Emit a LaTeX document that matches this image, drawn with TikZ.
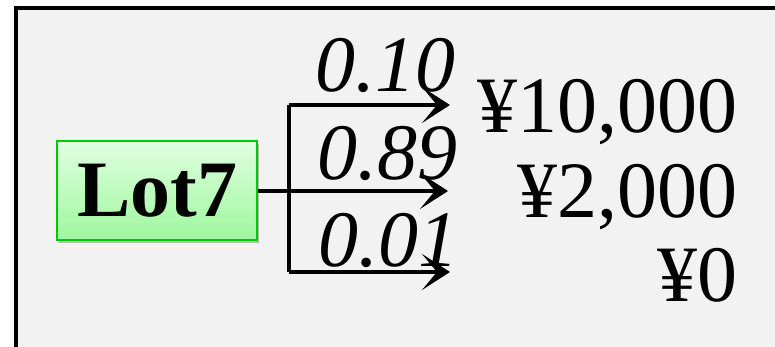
\documentclass[tikz,border=0pt]{standalone}
\usepackage{fontspec}
\setmainfont{Liberation Serif}
\usetikzlibrary{arrows.meta, shadows}
\definecolor{panelgray}{HTML}{F2F2F2}
\definecolor{lotgreen}{HTML}{00C800}
\definecolor{lottop}{HTML}{E0FFE0}
\definecolor{lotbottom}{HTML}{9EF79E}
\tikzset{lotbox/.style = {draw = lotgreen, line width = 2.5pt, top color = lottop, bottom color = lotbottom,
    minimum width = 200pt, minimum height = 99pt, inner sep = 0pt,
    drop shadow = {shadow xshift = 2pt, shadow yshift = -3pt, opacity = 0.5},
    font = \fontsize{80}{80}\selectfont\bfseries}}
\tikzset{prob/.style = {anchor = base west, inner sep = 0pt, font = \fontsize{80}{80}\selectfont\itshape}}
\tikzset{prize/.style = {anchor = base east, inner sep = 0pt, font = \fontsize{80}{80}\selectfont}}
\tikzset{edge/.style = {line width = 3.2pt, -{Stealth[length = 28pt, width = 36pt, inset = 15pt]}}}
\tikzset{fork/.style = {line width = 3.2pt}}

\begin{document}
\begin{tikzpicture}[x = 1pt, y = 1pt]
			\useasboundingbox (0, 0) rectangle (775, 347);
			\fill[panelgray] (16, 0) rectangle (790, 339);
			\draw[line width = 3.5pt] (16, -5) -- (16, 339) -- (790, 339);

			\node[lotbox] (lot) at (157, 156.5) {Lot7};

			\coordinate (ftop) at (289, 242);
			\coordinate (fbot) at (289, 75);
			\coordinate (e1) at (450, 242);
			\coordinate (e2) at (448, 156);
			\coordinate (e3) at (450, 75);

			\draw[fork] (ftop) -- (fbot);
			\draw[edge] (lot.east |- e2) -- (e2);
			\draw[edge] (ftop) -- (e1);
			\draw[edge] (fbot) -- (e3);

			\node[prob] (p1) at (315, 255) {0.10};
			\node[prob] (p2) at (317, 167) {0.89};
			\node[prob] (p3) at (318, 80) {0.01};

			\node[prize] (y1) at (738, 214) {¥10,000};
			\node[prize] (y2) at (738, 129) {¥2,000};
			\node[prize] (y3) at (738, 45) {¥0};
		\end{tikzpicture}
\end{document}
